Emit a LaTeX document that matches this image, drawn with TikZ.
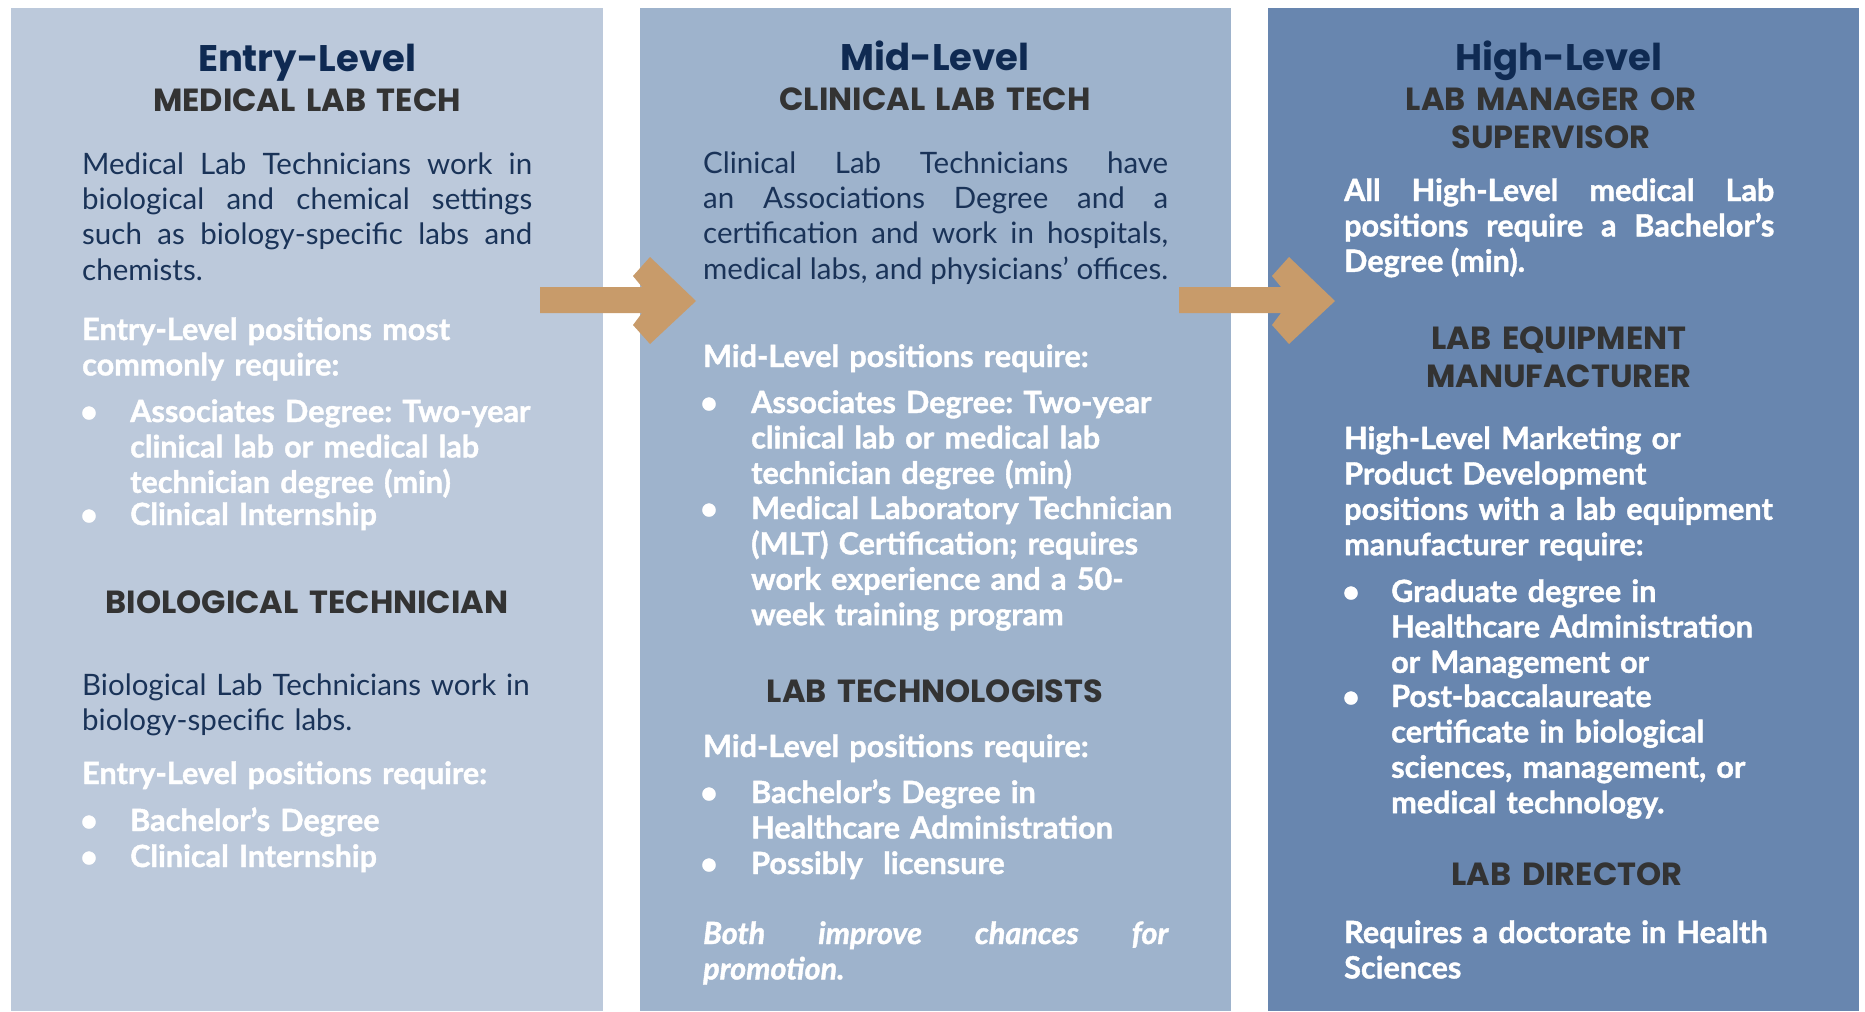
\documentclass[tikz,border=0pt]{standalone}
\usepackage{fontspec}
\setmainfont{Lato}[BoldFeatures={FakeBold=1.3},BoldItalicFeatures={FakeBold=1.3}]
\newfontfamily\headfont{Poppins}
\definecolor{paneone}{HTML}{BCC9DB}
\definecolor{panetwo}{HTML}{9EB3CC}
\definecolor{panethree}{HTML}{6886AF}
\definecolor{arrowtan}{HTML}{C89B6A}
\definecolor{titlenavy}{HTML}{0F2A52}
\definecolor{bodynavy}{HTML}{1A3358}
\definecolor{headgray}{HTML}{333333}
\frenchspacing

\begin{document}
\begin{tikzpicture}[x=1bp,y=-1bp,inner sep=0pt,
    title/.style={anchor=base,text=titlenavy,font=\headfont\fontsize{37bp}{40bp}\selectfont\bfseries},
    head/.style={anchor=base,text=headgray,text width=560bp,align=center,font=\headfont\fontsize{32bp}{38.5bp}\selectfont\bfseries},
    body/.style={anchor=base west,text=bodynavy,align=justify,font=\fontsize{29.5bp}{35.4bp}\selectfont},
    plain/.style={body,align=left,text width=520bp},
    req/.style={anchor=base west,text=white,align=left,text width=480bp,font=\fontsize{30.6bp}{35.4bp}\selectfont\bfseries},
    dot/.style={anchor=base,text=white,font=\fontsize{30bp}{35.4bp}\selectfont\bfseries}]
        \fill[white] (0,0) rectangle (1865,1011);
        \useasboundingbox (0,0) rectangle (1865,1011);
        \fill[paneone] (11,8) rectangle (603,1011);
        \fill[panetwo] (640,8) rectangle (1231,1011);
        \fill[panethree] (1268,8) rectangle (1859,1011);
        \foreach \dx in {0,639}
            \fill[arrowtan,shift={(\dx,0)}] (540,287) -- (642,287) -- (633,276) -- (650,257) -- (696,301)
                -- (650,344) -- (633,325) -- (642,313) -- (540,313) -- cycle;

        \node[title] (entry) at (307,71) {Entry-Level};
        \node[head] (medtech) at (307,111) {MEDICAL LAB TECH};
        \node[body,text width=450bp] (medtxt) at (82,174) {Medical Lab Technicians work in\linebreak
            biological and chemical settings\linebreak such as biology-specific labs and\linebreak chemists.};
        \node[req] (medreq) at (82,340) {Entry-Level positions most\\commonly require:};
        \node[req] (medreqa) at (130,422) {Associates Degree: Two-year\\clinical lab or medical lab\\technician degree (min)};
        \node[req] (medreqb) at (130,525) {Clinical Internship};
        \node[head] (biotech) at (307,613) {BIOLOGICAL TECHNICIAN};
        \node[plain] (biotxt) at (82,695) {Biological Lab Technicians work in\\biology-specific labs.};
        \node[req] (bioreq) at (82,784) {Entry-Level positions require:};
        \node[req] (bioreqa) at (130,831) {Bachelor’s Degree};
        \node[req] (bioreqb) at (130,867) {Clinical Internship};
        \foreach \y in {422,525,831,867}
            \node[dot] (ed\y) at (89,\y) {\textbullet};

        \node[title] (mid) at (935,70) {Mid-Level};
        \node[head] (clintech) at (935,110) {CLINICAL LAB TECH};
        \node[body,text width=465bp] (clintxt) at (703,173) {Clinical Lab Technicians have\linebreak
            an Associations Degree and a\linebreak certification and work in hospitals,\linebreak
            medical labs, and physicians’ offices.};
        \node[req] (clinreq) at (703,367) {Mid-Level positions require:};
        \node[req] (clinreqa) at (751,413) {Associates Degree: Two-year\\clinical lab or medical lab\\technician degree (min)};
        \node[req] (clinreqb) at (751,519) {Medical Laboratory Technician\\(MLT) Certification; requires\\work experience and a 50-\\week training program};
        \node[head] (labtech) at (935,702) {LAB TECHNOLOGISTS};
        \node[req] (labreq) at (703,757) {Mid-Level positions require:};
        \node[req] (labreqa) at (751,803) {Bachelor’s Degree in\\Healthcare Administration};
        \node[req] (labreqb) at (751,874) {Possibly\ \ licensure};
        \node[req,align=justify,text width=465bp,font=\fontsize{30.6bp}{35.4bp}\selectfont\bfseries\itshape]
            (both) at (703,944) {Both improve chances for\linebreak promotion.};
        \foreach \y in {413,519,803,874}
            \node[dot] (md\y) at (709,\y) {\textbullet};

        \node[title] (high) at (1559,70) {High-Level};
        \node[head] (manager) at (1551,110) {LAB MANAGER OR\\SUPERVISOR};
        \node[req,align=justify,text width=430bp] (mantxt) at (1344,201) {All High-Level medical Lab\linebreak
            positions require a Bachelor’s\linebreak Degree (min).};
        \node[head] (equip) at (1559,349) {LAB EQUIPMENT\\MANUFACTURER};
        \node[req] (equipreq) at (1344,449) {High-Level Marketing or\\Product Development\\positions with a lab equipment\\manufacturer require:};
        \node[req] (equipreqa) at (1391,602) {Graduate degree in\\Healthcare Administration\\or Management or};
        \node[req] (equipreqb) at (1391,707) {Post-baccalaureate\\certificate in biological\\sciences, management, or\\medical technology.};
        \node[head] (director) at (1567,885) {LAB DIRECTOR};
        \node[req] (dirreq) at (1344,943) {Requires a doctorate in Health\\Sciences};
        \foreach \y in {602,707}
            \node[dot] (hd\y) at (1351,\y) {\textbullet};
\end{tikzpicture}
\end{document}
